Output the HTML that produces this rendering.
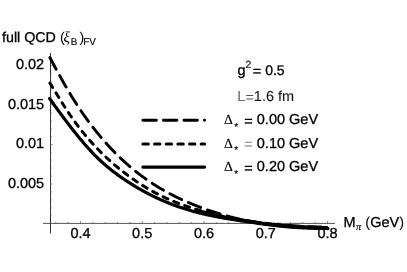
<!DOCTYPE html>
<html><head><meta charset="utf-8"><title>plot</title>
<style>
html,body{margin:0;padding:0;background:#fff;}
body{width:407px;height:272px;overflow:hidden;}
svg{display:block;text-rendering:geometricPrecision;font-family:"Liberation Sans",sans-serif;font-size:14px;fill:#000;}
text{stroke:#000;stroke-width:0.3px;paint-order:stroke;}
.ser{font-family:"Liberation Serif",serif;stroke-width:0.15px;}
</style></head><body>
<svg width="407" height="272" viewBox="0 0 407 272" style="filter:grayscale(1)">
<rect width="407" height="272" fill="#fff"/>
<g stroke="#222" fill="none">
<line x1="43" y1="223.4" x2="335" y2="223.4" stroke-width="1" stroke="#555"/>
<line x1="50.5" y1="53" x2="50.5" y2="233.5" stroke-width="1" stroke="#333"/>
</g>
<g stroke="#555" stroke-width="0.7" fill="none">
<line x1="55.80" y1="223.90" x2="55.80" y2="222.00"/><line x1="68.15" y1="223.90" x2="68.15" y2="222.00"/><line x1="80.50" y1="223.90" x2="80.50" y2="221.20"/><line x1="92.85" y1="223.90" x2="92.85" y2="222.00"/><line x1="105.20" y1="223.90" x2="105.20" y2="222.00"/><line x1="117.55" y1="223.90" x2="117.55" y2="222.00"/><line x1="129.90" y1="223.90" x2="129.90" y2="222.00"/><line x1="142.25" y1="223.90" x2="142.25" y2="221.20"/><line x1="154.60" y1="223.90" x2="154.60" y2="222.00"/><line x1="166.95" y1="223.90" x2="166.95" y2="222.00"/><line x1="179.30" y1="223.90" x2="179.30" y2="222.00"/><line x1="191.65" y1="223.90" x2="191.65" y2="222.00"/><line x1="204.00" y1="223.90" x2="204.00" y2="221.20"/><line x1="216.35" y1="223.90" x2="216.35" y2="222.00"/><line x1="228.70" y1="223.90" x2="228.70" y2="222.00"/><line x1="241.05" y1="223.90" x2="241.05" y2="222.00"/><line x1="253.40" y1="223.90" x2="253.40" y2="222.00"/><line x1="265.75" y1="223.90" x2="265.75" y2="221.20"/><line x1="278.10" y1="223.90" x2="278.10" y2="222.00"/><line x1="290.45" y1="223.90" x2="290.45" y2="222.00"/><line x1="302.80" y1="223.90" x2="302.80" y2="222.00"/><line x1="315.15" y1="223.90" x2="315.15" y2="222.00"/><line x1="327.50" y1="223.90" x2="327.50" y2="221.20"/><line x1="50.00" y1="215.60" x2="51.80" y2="215.60"/><line x1="50.00" y1="207.70" x2="51.80" y2="207.70"/><line x1="50.00" y1="199.80" x2="51.80" y2="199.80"/><line x1="50.00" y1="191.90" x2="51.80" y2="191.90"/><line x1="50.00" y1="184.00" x2="52.50" y2="184.00"/><line x1="50.00" y1="176.10" x2="51.80" y2="176.10"/><line x1="50.00" y1="168.20" x2="51.80" y2="168.20"/><line x1="50.00" y1="160.30" x2="51.80" y2="160.30"/><line x1="50.00" y1="152.40" x2="51.80" y2="152.40"/><line x1="50.00" y1="144.50" x2="52.50" y2="144.50"/><line x1="50.00" y1="136.60" x2="51.80" y2="136.60"/><line x1="50.00" y1="128.70" x2="51.80" y2="128.70"/><line x1="50.00" y1="120.80" x2="51.80" y2="120.80"/><line x1="50.00" y1="112.90" x2="51.80" y2="112.90"/><line x1="50.00" y1="105.00" x2="52.50" y2="105.00"/><line x1="50.00" y1="97.10" x2="51.80" y2="97.10"/><line x1="50.00" y1="89.20" x2="51.80" y2="89.20"/><line x1="50.00" y1="81.30" x2="51.80" y2="81.30"/><line x1="50.00" y1="73.40" x2="51.80" y2="73.40"/><line x1="50.00" y1="65.50" x2="52.50" y2="65.50"/><line x1="50.00" y1="57.60" x2="51.80" y2="57.60"/>
</g>
<g style="font-size:14.5px"><text x="80.5" y="238.2" text-anchor="middle">0.4</text><text x="142.2" y="238.2" text-anchor="middle">0.5</text><text x="204.0" y="238.2" text-anchor="middle">0.6</text><text x="265.8" y="238.2" text-anchor="middle">0.7</text><text x="327.5" y="238.2" text-anchor="middle">0.8</text><text x="44.2" y="69.4" text-anchor="end">0.02</text><text x="44.2" y="108.9" text-anchor="end">0.015</text><text x="44.2" y="148.4" text-anchor="end">0.01</text><text x="44.2" y="187.9" text-anchor="end">0.005</text></g>
<g fill="none" stroke="#000" stroke-linejoin="round" stroke-linecap="round">
<path d="M236.0 219.01 L236.8 219.17 L237.6 219.32 L238.4 219.46 L239.2 219.61 L240.0 219.76 L240.8 219.90 L241.6 220.04 L242.4 220.19 L243.2 220.33 L244.0 220.47 L244.8 220.61 L245.6 220.74 L246.4 220.88 L247.2 221.01 L248.0 221.15 L248.8 221.28 L249.6 221.41 L250.4 221.54 L251.2 221.67 L252.0 221.80 L252.8 221.92 L253.6 222.05 L254.4 222.17 L255.2 222.30 L256.0 222.42 L256.8 222.54 L257.6 222.66 L258.4 222.78 L259.2 222.90 L260.0 223.01 L260.8 223.13 L261.6 223.24 L262.4 223.35 L263.2 223.46 L264.0 223.57 L264.8 223.68 L265.6 223.79 L266.4 223.90 L267.2 224.00 L268.0 224.10 L268.8 224.21 L269.6 224.31 L270.4 224.41 L271.2 224.50 L272.0 224.60 L272.8 224.70 L273.6 224.79 L274.4 224.88 L275.2 224.97 L276.0 225.06 L276.8 225.15 L277.6 225.24 L278.4 225.33 L279.2 225.41 L280.0 225.49 L280.8 225.57 L281.6 225.65 L282.4 225.73 L283.2 225.81 L284.0 225.89 L284.8 225.96 L285.6 226.03 L286.4 226.10 L287.2 226.17 L288.0 226.24 L288.8 226.31 L289.6 226.37 L290.4 226.43 L291.2 226.50 L292.0 226.56 L292.8 226.61 L293.6 226.67 L294.4 226.73 L295.2 226.78 L296.0 226.83 L296.8 226.89 L297.6 226.94 L298.4 226.98 L299.2 227.03 L300.0 227.08 L300.8 227.12 L301.6 227.16 L302.4 227.21 L303.2 227.25 L304.0 227.29 L304.8 227.33 L305.6 227.36 L306.4 227.40 L307.2 227.43 L308.0 227.47 L308.8 227.50 L309.6 227.53 L310.4 227.56 L311.2 227.59 L312.0 227.62 L312.8 227.65 L313.6 227.67 L314.4 227.70 L315.2 227.72 L316.0 227.75 L316.8 227.77 L317.6 227.79 L318.4 227.81 L319.2 227.83 L320.0 227.85 L320.8 227.87 L321.6 227.89 L322.4 227.90 L323.2 227.92 L324.0 227.93 L324.8 227.95 L325.6 227.96 L326.4 227.97 L327.2 227.99 L328.0 228.00" stroke-width="3.4" stroke-linecap="butt"/>
<path d="M202.0 211.08 L202.8 211.30 L203.6 211.53 L204.4 211.75 L205.2 211.97 L206.0 212.18 L206.8 212.40 L207.6 212.61 L208.4 212.82 L209.2 213.03 L210.0 213.24 L210.8 213.45 L211.6 213.65 L212.4 213.85 L213.2 214.05 L214.0 214.25 L214.8 214.44 L215.6 214.64 L216.4 214.83 L217.2 215.02 L218.0 215.21 L218.8 215.40 L219.6 215.58 L220.4 215.76 L221.2 215.95 L222.0 216.13 L222.8 216.30 L223.6 216.48 L224.4 216.65 L225.2 216.83 L226.0 217.00 L226.8 217.17 L227.6 217.34 L228.4 217.50 L229.2 217.67 L230.0 217.83 L230.8 218.00 L231.6 218.16 L232.4 218.32 L233.2 218.47 L234.0 218.63 L234.8 218.78 L235.6 218.94 L236.4 219.09" stroke-width="2.4" stroke-linecap="butt"/>
<path d="M262.0 223.18 L262.8 223.29 L263.6 223.39 L264.4 223.48 L265.2 223.58 L266.0 223.67 L266.8 223.77 L267.6 223.86 L268.4 223.95 L269.2 224.03 L270.0 224.12 L270.8 224.20 L271.6 224.28 L272.4 224.36 L273.2 224.44 L274.0 224.52 L274.8 224.59 L275.6 224.67 L276.4 224.74 L277.2 224.81 L278.0 224.88 L278.8 224.95 L279.6 225.01 L280.4 225.08 L281.2 225.14 L282.0 225.21 L282.8 225.27 L283.6 225.33 L284.4 225.39 L285.2 225.45 L286.0 225.51 L286.8 225.57 L287.6 225.62 L288.4 225.68 L289.2 225.73 L290.0 225.79 L290.8 225.84 L291.6 225.90 L292.4 225.95 L293.2 226.00 L294.0 226.05 L294.8 226.10 L295.6 226.15 L296.4 226.20 L297.2 226.25 L298.0 226.29 L298.8 226.34 L299.6 226.39 L300.4 226.43 L301.2 226.48 L302.0 226.52 L302.8 226.56 L303.6 226.60 L304.4 226.65 L305.2 226.69 L306.0 226.73 L306.8 226.76 L307.6 226.80 L308.4 226.84 L309.2 226.87 L310.0 226.91 L310.8 226.94 L311.6 226.98 L312.4 227.01 L313.2 227.04 L314.0 227.07 L314.8 227.10 L315.6 227.13 L316.4 227.16 L317.2 227.18 L318.0 227.21 L318.8 227.23 L319.6 227.26 L320.4 227.28 L321.2 227.30 L322.0 227.32 L322.8 227.34 L323.6 227.36 L324.4 227.38 L325.2 227.39 L326.0 227.41 L326.8 227.42 L327.6 227.44" stroke-width="2.6" stroke-linecap="butt"/>
<path d="M49.6 57.03 L50.4 58.53 L51.2 60.03 L52.0 61.52 L52.8 63.01 L53.6 64.50 L54.4 65.99 L55.2 67.47 L56.0 68.94 L56.8 70.41 L57.6 71.88 L58.4 73.34 L59.2 74.80 L60.0 76.25 L60.8 77.69 L61.6 79.12 L62.4 80.55 L63.2 81.97 L64.0 83.38 L64.8 84.78 L65.6 86.17 L66.4 87.56 L67.2 88.93 L68.0 90.29 L68.8 91.64 L69.6 92.99 L70.4 94.31 L71.2 95.63 L72.0 96.94 L72.8 98.23 L73.6 99.52 L74.4 100.79 L75.2 102.05 L76.0 103.30 L76.8 104.54 L77.6 105.76 L78.4 106.98 L79.2 108.19 L80.0 109.38 L80.8 110.57 L81.6 111.74 L82.4 112.91 L83.2 114.06 L84.0 115.21 L84.8 116.34 L85.6 117.46 L86.4 118.58 L87.2 119.68 L88.0 120.78 L88.8 121.86 L89.6 122.94 L90.4 124.01 L91.2 125.07 L92.0 126.11 L92.8 127.15 L93.6 128.19 L94.4 129.21 L95.2 130.22 L96.0 131.23 L96.8 132.22 L97.6 133.21 L98.4 134.19 L99.2 135.16 L100.0 136.12 L100.8 137.08 L101.6 138.02 L102.4 138.96 L103.2 139.89 L104.0 140.81 L104.8 141.73 L105.6 142.63 L106.4 143.53 L107.2 144.42 L108.0 145.30 L108.8 146.18 L109.6 147.05 L110.4 147.90 L111.2 148.76 L112.0 149.60 L112.8 150.43 L113.6 151.26 L114.4 152.08 L115.2 152.90 L116.0 153.70 L116.8 154.50 L117.6 155.30 L118.4 156.08 L119.2 156.86 L120.0 157.63 L120.8 158.39 L121.6 159.15 L122.4 159.90 L123.2 160.64 L124.0 161.37 L124.8 162.10 L125.6 162.82 L126.4 163.54 L127.2 164.25 L128.0 164.95 L128.8 165.64 L129.6 166.33 L130.4 167.02 L131.2 167.69 L132.0 168.36 L132.8 169.02 L133.6 169.68 L134.4 170.33 L135.2 170.98 L136.0 171.61 L136.8 172.25 L137.6 172.87 L138.4 173.49 L139.2 174.11 L140.0 174.72 L140.8 175.32 L141.6 175.92 L142.4 176.51 L143.2 177.09 L144.0 177.67 L144.8 178.25 L145.6 178.82 L146.4 179.38 L147.2 179.94 L148.0 180.49 L148.8 181.04 L149.6 181.58 L150.4 182.12 L151.2 182.65 L152.0 183.18 L152.8 183.70 L153.6 184.21 L154.4 184.73 L155.2 185.23 L156.0 185.73 L156.8 186.23 L157.6 186.72 L158.4 187.21 L159.2 187.69 L160.0 188.17 L160.8 188.65 L161.6 189.11 L162.4 189.58 L163.2 190.04 L164.0 190.50 L164.8 190.95 L165.6 191.39 L166.4 191.84 L167.2 192.28 L168.0 192.71 L168.8 193.14 L169.6 193.57 L170.4 193.99 L171.2 194.41 L172.0 194.82 L172.8 195.23 L173.6 195.64 L174.4 196.04 L175.2 196.44 L176.0 196.84 L176.8 197.23 L177.6 197.62 L178.4 198.00 L179.2 198.38 L180.0 198.76 L180.8 199.13 L181.6 199.50 L182.4 199.87 L183.2 200.24 L184.0 200.60 L184.8 200.95 L185.6 201.31 L186.4 201.66 L187.2 202.00 L188.0 202.35 L188.8 202.69 L189.6 203.03 L190.4 203.36 L191.2 203.70 L192.0 204.03 L192.8 204.35 L193.6 204.68 L194.4 205.00 L195.2 205.32 L196.0 205.63 L196.8 205.95 L197.6 206.26 L198.4 206.57 L199.2 206.87 L200.0 207.17 L200.8 207.48 L201.6 207.77 L202.4 208.07 L203.2 208.36 L204.0 208.66 L204.8 208.94 L205.6 209.23 L206.4 209.51 L207.2 209.80 L208.0 210.07 L208.8 210.35 L209.6 210.63 L210.4 210.90 L211.2 211.17 L212.0 211.43 L212.8 211.70 L213.6 211.96 L214.4 212.22 L215.2 212.47 L216.0 212.73 L216.8 212.98 L217.6 213.23 L218.4 213.48 L219.2 213.72 L220.0 213.96 L220.8 214.20 L221.6 214.44 L222.4 214.67 L223.2 214.90 L224.0 215.13 L224.8 215.36 L225.6 215.58 L226.4 215.80 L227.2 216.02 L228.0 216.23 L228.8 216.45 L229.6 216.66 L230.4 216.87 L231.2 217.07 L232.0 217.27 L232.8 217.47 L233.6 217.67 L234.4 217.86 L235.2 218.06 L236.0 218.25 L236.8 218.43 L237.6 218.62 L238.4 218.80 L239.2 218.98 L240.0 219.15 L240.8 219.32 L241.6 219.50 L242.4 219.66 L243.2 219.83 L244.0 219.99 L244.8 220.15 L245.6 220.31 L246.4 220.46 L247.2 220.61 L248.0 220.76 L248.8 220.91 L249.6 221.05 L250.4 221.19 L251.2 221.33 L252.0 221.46 L252.8 221.59 L253.6 221.72 L254.4 221.85 L255.2 221.97 L256.0 222.10 L256.8 222.22 L257.6 222.33 L258.4 222.45 L259.2 222.56 L260.0 222.67 L260.8 222.78 L261.6 222.88 L262.4 222.99 L263.2 223.09 L264.0 223.19 L264.8 223.28 L265.6 223.38 L266.4 223.47 L267.2 223.56 L268.0 223.65 L268.8 223.74 L269.6 223.82 L270.4 223.91 L271.2 223.99 L272.0 224.07 L272.8 224.15 L273.6 224.23 L274.4 224.30 L275.2 224.38 L276.0 224.45 L276.8 224.52 L277.6 224.59 L278.4 224.66 L279.2 224.73 L280.0 224.80 L280.8 224.86 L281.6 224.93 L282.4 224.99 L283.2 225.05 L284.0 225.11 L284.8 225.17 L285.6 225.23 L286.4 225.29 L287.2 225.34 L288.0 225.40 L288.8 225.46 L289.6 225.51 L290.4 225.57 L291.2 225.62 L292.0 225.67 L292.8 225.72 L293.6 225.78 L294.4 225.83 L295.2 225.88 L296.0 225.93 L296.8 225.97 L297.6 226.02 L298.4 226.07 L299.2 226.11 L300.0 226.16 L300.8 226.20 L301.6 226.25 L302.4 226.29 L303.2 226.33 L304.0 226.38 L304.8 226.42 L305.6 226.46 L306.4 226.49 L307.2 226.53 L308.0 226.57 L308.8 226.61 L309.6 226.64 L310.4 226.68 L311.2 226.71 L312.0 226.74 L312.8 226.77 L313.6 226.81 L314.4 226.84 L315.2 226.86 L316.0 226.89 L316.8 226.92 L317.6 226.95 L318.4 226.97 L319.2 227.00 L320.0 227.02 L320.8 227.04 L321.6 227.06 L322.4 227.08 L323.2 227.10 L324.0 227.12 L324.8 227.13 L325.6 227.15 L326.4 227.17 L327.2 227.18 L328.0 227.19" stroke-width="2.9" stroke-dasharray="13.2 7.3" stroke-dashoffset="-0.6"/>
<path d="M49.6 82.53 L50.4 83.82 L51.2 85.11 L52.0 86.40 L52.8 87.70 L53.6 89.00 L54.4 90.30 L55.2 91.60 L56.0 92.90 L56.8 94.20 L57.6 95.50 L58.4 96.80 L59.2 98.09 L60.0 99.38 L60.8 100.67 L61.6 101.95 L62.4 103.22 L63.2 104.49 L64.0 105.75 L64.8 107.00 L65.6 108.25 L66.4 109.48 L67.2 110.71 L68.0 111.92 L68.8 113.13 L69.6 114.32 L70.4 115.50 L71.2 116.66 L72.0 117.82 L72.8 118.95 L73.6 120.08 L74.4 121.20 L75.2 122.30 L76.0 123.39 L76.8 124.47 L77.6 125.54 L78.4 126.59 L79.2 127.64 L80.0 128.67 L80.8 129.69 L81.6 130.70 L82.4 131.70 L83.2 132.69 L84.0 133.67 L84.8 134.64 L85.6 135.60 L86.4 136.55 L87.2 137.49 L88.0 138.42 L88.8 139.34 L89.6 140.25 L90.4 141.16 L91.2 142.05 L92.0 142.94 L92.8 143.81 L93.6 144.68 L94.4 145.54 L95.2 146.39 L96.0 147.24 L96.8 148.08 L97.6 148.91 L98.4 149.73 L99.2 150.54 L100.0 151.35 L100.8 152.15 L101.6 152.94 L102.4 153.72 L103.2 154.50 L104.0 155.27 L104.8 156.04 L105.6 156.79 L106.4 157.54 L107.2 158.28 L108.0 159.02 L108.8 159.75 L109.6 160.47 L110.4 161.19 L111.2 161.90 L112.0 162.61 L112.8 163.30 L113.6 163.99 L114.4 164.68 L115.2 165.36 L116.0 166.03 L116.8 166.70 L117.6 167.36 L118.4 168.02 L119.2 168.67 L120.0 169.31 L120.8 169.95 L121.6 170.59 L122.4 171.22 L123.2 171.84 L124.0 172.46 L124.8 173.07 L125.6 173.68 L126.4 174.28 L127.2 174.88 L128.0 175.47 L128.8 176.06 L129.6 176.65 L130.4 177.22 L131.2 177.80 L132.0 178.36 L132.8 178.93 L133.6 179.49 L134.4 180.04 L135.2 180.59 L136.0 181.13 L136.8 181.67 L137.6 182.21 L138.4 182.74 L139.2 183.26 L140.0 183.78 L140.8 184.29 L141.6 184.80 L142.4 185.31 L143.2 185.81 L144.0 186.30 L144.8 186.80 L145.6 187.28 L146.4 187.76 L147.2 188.24 L148.0 188.71 L148.8 189.18 L149.6 189.64 L150.4 190.10 L151.2 190.55 L152.0 191.00 L152.8 191.44 L153.6 191.88 L154.4 192.32 L155.2 192.74 L156.0 193.17 L156.8 193.59 L157.6 194.01 L158.4 194.42 L159.2 194.82 L160.0 195.23 L160.8 195.62 L161.6 196.02 L162.4 196.40 L163.2 196.79 L164.0 197.17 L164.8 197.54 L165.6 197.91 L166.4 198.28 L167.2 198.64 L168.0 199.00 L168.8 199.36 L169.6 199.71 L170.4 200.05 L171.2 200.39 L172.0 200.73 L172.8 201.07 L173.6 201.40 L174.4 201.73 L175.2 202.05 L176.0 202.37 L176.8 202.69 L177.6 203.00 L178.4 203.31 L179.2 203.61 L180.0 203.91 L180.8 204.21 L181.6 204.51 L182.4 204.80 L183.2 205.09 L184.0 205.38 L184.8 205.66 L185.6 205.94 L186.4 206.22 L187.2 206.49 L188.0 206.76 L188.8 207.03 L189.6 207.29 L190.4 207.56 L191.2 207.82 L192.0 208.07 L192.8 208.33 L193.6 208.58 L194.4 208.83 L195.2 209.07 L196.0 209.32 L196.8 209.56 L197.6 209.80 L198.4 210.04 L199.2 210.27 L200.0 210.51 L200.8 210.74 L201.6 210.96 L202.4 211.19 L203.2 211.42 L204.0 211.64 L204.8 211.86 L205.6 212.08 L206.4 212.29 L207.2 212.51 L208.0 212.72 L208.8 212.93 L209.6 213.14 L210.4 213.34 L211.2 213.55 L212.0 213.75 L212.8 213.95 L213.6 214.15 L214.4 214.35 L215.2 214.54 L216.0 214.73 L216.8 214.93 L217.6 215.11 L218.4 215.30 L219.2 215.49 L220.0 215.67 L220.8 215.85 L221.6 216.04 L222.4 216.21 L223.2 216.39 L224.0 216.57 L224.8 216.74 L225.6 216.91 L226.4 217.08 L227.2 217.25 L228.0 217.42 L228.8 217.59 L229.6 217.75 L230.4 217.92 L231.2 218.08 L232.0 218.24 L232.8 218.39 L233.6 218.55 L234.4 218.71 L235.2 218.86 L236.0 219.01 L236.8 219.17 L237.6 219.32 L238.4 219.46 L239.2 219.61 L240.0 219.76 L240.8 219.90 L241.6 220.04 L242.4 220.19 L243.2 220.33 L244.0 220.47 L244.8 220.61 L245.6 220.74 L246.4 220.88 L247.2 221.01 L248.0 221.15 L248.8 221.28 L249.6 221.41 L250.4 221.54 L251.2 221.67 L252.0 221.80 L252.8 221.92 L253.6 222.05 L254.4 222.17 L255.2 222.30 L256.0 222.42 L256.8 222.54 L257.6 222.66 L258.4 222.78 L259.2 222.90 L260.0 223.01 L260.8 223.13 L261.6 223.24 L262.4 223.35 L263.2 223.46 L264.0 223.57 L264.8 223.68 L265.6 223.79 L266.4 223.90 L267.2 224.00 L268.0 224.10 L268.8 224.21 L269.6 224.31 L270.4 224.41 L271.2 224.50 L272.0 224.60 L272.8 224.70 L273.6 224.79 L274.4 224.88 L275.2 224.97 L276.0 225.06 L276.8 225.15 L277.6 225.24 L278.4 225.33 L279.2 225.41 L280.0 225.49 L280.8 225.57 L281.6 225.65 L282.4 225.73 L283.2 225.81 L284.0 225.89 L284.8 225.96 L285.6 226.03 L286.4 226.10 L287.2 226.17 L288.0 226.24 L288.8 226.31 L289.6 226.37 L290.4 226.43 L291.2 226.50 L292.0 226.56 L292.8 226.61 L293.6 226.67 L294.4 226.73 L295.2 226.78 L296.0 226.83 L296.8 226.89 L297.6 226.94 L298.4 226.98 L299.2 227.03 L300.0 227.08 L300.8 227.12 L301.6 227.16 L302.4 227.21 L303.2 227.25 L304.0 227.29 L304.8 227.33 L305.6 227.36 L306.4 227.40 L307.2 227.43 L308.0 227.47 L308.8 227.50 L309.6 227.53 L310.4 227.56 L311.2 227.59 L312.0 227.62 L312.8 227.65 L313.6 227.67 L314.4 227.70 L315.2 227.72 L316.0 227.75 L316.8 227.77 L317.6 227.79 L318.4 227.81 L319.2 227.83 L320.0 227.85 L320.8 227.87 L321.6 227.89 L322.4 227.90 L323.2 227.92 L324.0 227.93 L324.8 227.95 L325.6 227.96 L326.4 227.97 L327.2 227.99 L328.0 228.00" stroke-width="3.0" stroke-dasharray="5.3 6.35" stroke-dashoffset="-0.5"/>
<path d="M49.6 98.46 L50.4 99.59 L51.2 100.72 L52.0 101.85 L52.8 102.97 L53.6 104.09 L54.4 105.21 L55.2 106.32 L56.0 107.43 L56.8 108.53 L57.6 109.63 L58.4 110.72 L59.2 111.82 L60.0 112.90 L60.8 113.99 L61.6 115.07 L62.4 116.14 L63.2 117.21 L64.0 118.28 L64.8 119.35 L65.6 120.40 L66.4 121.46 L67.2 122.51 L68.0 123.56 L68.8 124.60 L69.6 125.64 L70.4 126.67 L71.2 127.70 L72.0 128.73 L72.8 129.75 L73.6 130.76 L74.4 131.77 L75.2 132.78 L76.0 133.77 L76.8 134.77 L77.6 135.76 L78.4 136.74 L79.2 137.71 L80.0 138.68 L80.8 139.64 L81.6 140.60 L82.4 141.55 L83.2 142.49 L84.0 143.42 L84.8 144.35 L85.6 145.27 L86.4 146.18 L87.2 147.08 L88.0 147.97 L88.8 148.86 L89.6 149.73 L90.4 150.60 L91.2 151.46 L92.0 152.31 L92.8 153.15 L93.6 153.98 L94.4 154.80 L95.2 155.61 L96.0 156.41 L96.8 157.20 L97.6 157.98 L98.4 158.75 L99.2 159.51 L100.0 160.26 L100.8 161.01 L101.6 161.74 L102.4 162.46 L103.2 163.18 L104.0 163.89 L104.8 164.59 L105.6 165.28 L106.4 165.96 L107.2 166.63 L108.0 167.30 L108.8 167.96 L109.6 168.61 L110.4 169.26 L111.2 169.89 L112.0 170.52 L112.8 171.15 L113.6 171.76 L114.4 172.37 L115.2 172.98 L116.0 173.57 L116.8 174.16 L117.6 174.75 L118.4 175.33 L119.2 175.90 L120.0 176.47 L120.8 177.04 L121.6 177.59 L122.4 178.15 L123.2 178.70 L124.0 179.24 L124.8 179.78 L125.6 180.31 L126.4 180.84 L127.2 181.37 L128.0 181.89 L128.8 182.41 L129.6 182.92 L130.4 183.43 L131.2 183.94 L132.0 184.44 L132.8 184.93 L133.6 185.43 L134.4 185.92 L135.2 186.40 L136.0 186.88 L136.8 187.35 L137.6 187.83 L138.4 188.29 L139.2 188.76 L140.0 189.22 L140.8 189.67 L141.6 190.12 L142.4 190.57 L143.2 191.01 L144.0 191.45 L144.8 191.89 L145.6 192.32 L146.4 192.74 L147.2 193.17 L148.0 193.59 L148.8 194.00 L149.6 194.41 L150.4 194.82 L151.2 195.22 L152.0 195.62 L152.8 196.01 L153.6 196.41 L154.4 196.79 L155.2 197.18 L156.0 197.56 L156.8 197.93 L157.6 198.30 L158.4 198.67 L159.2 199.04 L160.0 199.40 L160.8 199.75 L161.6 200.11 L162.4 200.45 L163.2 200.80 L164.0 201.14 L164.8 201.48 L165.6 201.81 L166.4 202.14 L167.2 202.47 L168.0 202.79 L168.8 203.11 L169.6 203.43 L170.4 203.74 L171.2 204.05 L172.0 204.36 L172.8 204.66 L173.6 204.96 L174.4 205.26 L175.2 205.55 L176.0 205.84 L176.8 206.12 L177.6 206.40 L178.4 206.68 L179.2 206.96 L180.0 207.23 L180.8 207.50 L181.6 207.77 L182.4 208.03 L183.2 208.29 L184.0 208.55 L184.8 208.80 L185.6 209.05 L186.4 209.30 L187.2 209.55 L188.0 209.79 L188.8 210.03 L189.6 210.26 L190.4 210.50 L191.2 210.73 L192.0 210.95 L192.8 211.18 L193.6 211.40 L194.4 211.62 L195.2 211.83 L196.0 212.05 L196.8 212.26 L197.6 212.47 L198.4 212.67 L199.2 212.88 L200.0 213.08 L200.8 213.27 L201.6 213.47 L202.4 213.66 L203.2 213.85 L204.0 214.04 L204.8 214.23 L205.6 214.41 L206.4 214.59 L207.2 214.77 L208.0 214.95 L208.8 215.12 L209.6 215.29 L210.4 215.46 L211.2 215.63 L212.0 215.80 L212.8 215.96 L213.6 216.12 L214.4 216.28 L215.2 216.44 L216.0 216.60 L216.8 216.75 L217.6 216.90 L218.4 217.06 L219.2 217.21 L220.0 217.35 L220.8 217.50 L221.6 217.65 L222.4 217.79 L223.2 217.93 L224.0 218.07 L224.8 218.21 L225.6 218.35 L226.4 218.48 L227.2 218.62 L228.0 218.75 L228.8 218.89 L229.6 219.02 L230.4 219.15 L231.2 219.28 L232.0 219.41 L232.8 219.53 L233.6 219.66 L234.4 219.79 L235.2 219.91 L236.0 220.04 L236.8 220.16 L237.6 220.28 L238.4 220.40 L239.2 220.52 L240.0 220.64 L240.8 220.76 L241.6 220.88 L242.4 221.00 L243.2 221.12 L244.0 221.24 L244.8 221.36 L245.6 221.47 L246.4 221.59 L247.2 221.71 L248.0 221.82 L248.8 221.94 L249.6 222.06 L250.4 222.17 L251.2 222.29 L252.0 222.40 L252.8 222.52 L253.6 222.63 L254.4 222.75 L255.2 222.86 L256.0 222.98 L256.8 223.09 L257.6 223.20 L258.4 223.32 L259.2 223.43 L260.0 223.54 L260.8 223.65 L261.6 223.76 L262.4 223.87 L263.2 223.98 L264.0 224.09 L264.8 224.20 L265.6 224.31 L266.4 224.42 L267.2 224.52 L268.0 224.63 L268.8 224.73 L269.6 224.83 L270.4 224.93 L271.2 225.03 L272.0 225.13 L272.8 225.23 L273.6 225.33 L274.4 225.43 L275.2 225.52 L276.0 225.61 L276.8 225.71 L277.6 225.80 L278.4 225.89 L279.2 225.98 L280.0 226.06 L280.8 226.15 L281.6 226.23 L282.4 226.31 L283.2 226.39 L284.0 226.47 L284.8 226.55 L285.6 226.62 L286.4 226.70 L287.2 226.77 L288.0 226.84 L288.8 226.91 L289.6 226.97 L290.4 227.04 L291.2 227.10 L292.0 227.16 L292.8 227.22 L293.6 227.28 L294.4 227.33 L295.2 227.38 L296.0 227.44 L296.8 227.49 L297.6 227.53 L298.4 227.58 L299.2 227.62 L300.0 227.67 L300.8 227.71 L301.6 227.75 L302.4 227.79 L303.2 227.83 L304.0 227.86 L304.8 227.90 L305.6 227.93 L306.4 227.97 L307.2 228.00 L308.0 228.03 L308.8 228.06 L309.6 228.09 L310.4 228.11 L311.2 228.14 L312.0 228.17 L312.8 228.19 L313.6 228.22 L314.4 228.24 L315.2 228.26 L316.0 228.28 L316.8 228.30 L317.6 228.32 L318.4 228.34 L319.2 228.36 L320.0 228.38 L320.8 228.40 L321.6 228.42 L322.4 228.44 L323.2 228.45 L324.0 228.47 L324.8 228.49 L325.6 228.50 L326.4 228.52 L327.2 228.54 L328.0 228.55" stroke-width="3.2"/>
<path d="M142.9 120.2H204.6" stroke-width="2.9" stroke-dasharray="13.5 7"/>
<path d="M142.9 144.1H204.6" stroke-width="3.0" stroke-dasharray="5.4 6.25"/>
<path d="M142.9 167.1H204.6" stroke-width="3.2"/>
</g>
<text x="2" y="41.7" style="font-size:14.25px">full QCD<tspan x="59.9" stroke="none">(</tspan><tspan class="ser" font-style="italic" font-size="15" x="63.6" stroke="none">ξ</tspan><tspan font-size="9.8" x="70.8" dy="3.3" stroke-width="0.15">B</tspan><tspan x="79.6" dy="-3.3" stroke="none">)</tspan><tspan font-size="10" x="83.2" dy="3.3" stroke-width="0.15">FV</tspan></text>
<text x="237.5" y="74.7" style="font-size:14.5px">g<tspan font-size="10.5" x="245.5" dy="-6.9" stroke-width="0.15">2</tspan><tspan dy="8.4" x="252.8">=</tspan><tspan x="265.2" dy="-1.5" style="font-size:14px">0.5</tspan></text>
<text x="237.3" y="100.5" style="font-size:14.5px"><tspan fill="#666" stroke="none">L</tspan><tspan dy="1.3" fill="#555" stroke="none">=</tspan><tspan dy="-1.3" fill="#1a1a1a" stroke-width="0.12">1.6 fm</tspan></text>
<text x="224.1" y="124.4" style="font-size:14.5px"><tspan class="ser" font-size="13.8">Δ</tspan><tspan font-size="10" dy="5.4" x="234.2" stroke-width="0.15">*</tspan><tspan dy="-4.0" x="244.3" fill="#000" stroke="#000">=</tspan><tspan dy="-1.4" x="256.8">0.00 GeV</tspan></text>
<text x="224.1" y="147.8" style="font-size:14.5px"><tspan class="ser" font-size="13.8">Δ</tspan><tspan font-size="10" dy="5.4" x="234.2" stroke-width="0.15">*</tspan><tspan dy="-4.0" x="244.3" fill="#999" stroke="#999">=</tspan><tspan dy="-1.4" x="256.8">0.10 GeV</tspan></text>
<text x="224.1" y="171.2" style="font-size:14.5px"><tspan class="ser" font-size="13.8">Δ</tspan><tspan font-size="10" dy="5.4" x="234.2" stroke-width="0.15">*</tspan><tspan dy="-4.0" x="244.3" fill="#000" stroke="#000">=</tspan><tspan dy="-1.4" x="256.8">0.20 GeV</tspan></text>
<text x="343.6" y="227.2" style="font-size:14.5px">M<tspan class="ser" font-style="italic" font-size="10.5" dy="2.3" x="356">π</tspan><tspan dy="-2.3" x="365.3" stroke="none">(</tspan>GeV<tspan stroke="none">)</tspan></text>
</svg>
</body></html>
